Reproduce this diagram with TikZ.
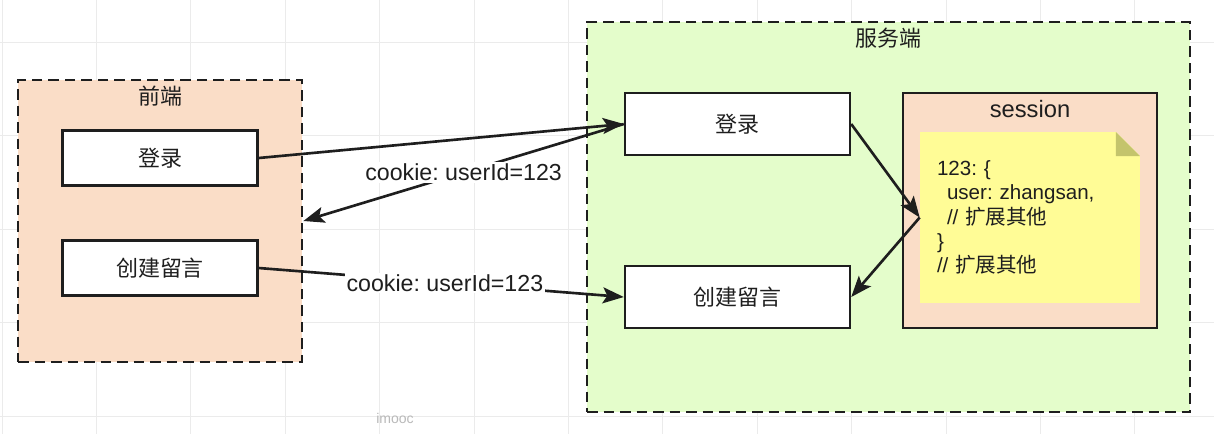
\documentclass[tikz,border=0pt]{standalone}
\usepackage{fontspec}
\setmainfont{Liberation Sans}
\newfontfamily\cjk{Noto Sans CJK SC}
\usetikzlibrary{arrows.meta,calc,positioning}
\frenchspacing

\definecolor{frontfill}{RGB}{250,221,199}
\definecolor{serverfill}{RGB}{228,253,203}
\definecolor{notefill}{RGB}{255,252,150}
\definecolor{foldfill}{RGB}{196,196,108}
\definecolor{ink}{RGB}{30,30,30}

\begin{document}
\begin{tikzpicture}[x=0.02cm, y=-0.02cm,
  gridline/.style={draw=gray!16, line width=0.5pt},
  group/.style={draw=ink, line width=1.6pt, dash pattern=on 6pt off 3.4pt},
  title/.style={text=ink, inner sep=0pt},
  page/.style={draw=ink, line width=1.4pt, fill=white, text=ink,
               font=\cjk\fontsize{12.5}{15}\selectfont},
  store/.style={draw=ink, line width=1.4pt, fill=frontfill,
                minimum width=5.08cm, minimum height=4.7cm},
  memo/.style={minimum width=4.4cm, minimum height=3.42cm, text width=3.72cm,
               inner xsep=0.34cm, inner ysep=0pt, align=left, text=ink,
               font=\fontsize{11.7}{13.9}\selectfont,
               path picture={
                 \fill[notefill] (path picture bounding box.north west)
                   -- ($(path picture bounding box.north east)+(-0.48cm,0)$)
                   -- ($(path picture bounding box.north east)+(0,-0.48cm)$)
                   -- (path picture bounding box.south east)
                   -- (path picture bounding box.south west) -- cycle;
                 \fill[foldfill] ($(path picture bounding box.north east)+(-0.48cm,0)$)
                   -- ($(path picture bounding box.north east)+(0,-0.48cm)$)
                   -- ($(path picture bounding box.north east)+(-0.48cm,-0.48cm)$) -- cycle;
               }},
  link/.style={-{Stealth[length=4.2mm, width=3.2mm, inset=0.9mm]}, line width=1.5pt, draw=ink},
  tag/.style={fill=white, inner sep=1pt, text=ink, font=\fontsize{13.2}{15}\selectfont}
]
\useasboundingbox (0,0) rectangle (1214,434);
\fill[white] (0,0) rectangle (1214,434);

% background grid
\foreach \gx in {2,96.4,...,1214} { \draw[gridline] (\gx,0) -- (\gx,434); }
\foreach \gy in {42,135.5,...,434} { \draw[gridline] (0,\gy) -- (1214,\gy); }

% front end
\node[group, fill=frontfill, minimum width=5.68cm, minimum height=5.64cm] (front) at (160,221) {};
\node[title, font=\cjk\fontsize{12.5}{15}\selectfont] (fronttitle) at ($(front.north)+(0,17)$) {前端};
\node[page, minimum width=3.9cm, minimum height=1.1cm] (flogin) at (160,158) {登录};
\node[page, minimum width=3.9cm, minimum height=1.1cm] (fcreate) at (160,268) {创建留言};

% server
\node[group, fill=serverfill, minimum width=12.06cm, minimum height=7.8cm] (server) at (888.5,217) {};
\node[title, font=\cjk\fontsize{12.5}{15}\selectfont] (servertitle) at ($(server.north)+(0,18)$) {服务端};
\node[page, minimum width=4.5cm, minimum height=1.24cm] (slogin) at (737.5,124) {登录};
\node[page, minimum width=4.5cm, minimum height=1.24cm] (screate) at (737.5,297) {创建留言};

\node[store] (session) at (1030,210.5) {};
\node[title, font=\fontsize{13.5}{16}\selectfont] (sessiontitle) at ($(session.north)+(0,17)$) {session};
\node[memo] (note) at (1030,217.5)
  {123: \{\\
   \hspace*{0.2cm}user: zhangsan,\\
   \hspace*{0.2cm}// {\cjk 扩展其他}\\
   \}\\
   // {\cjk 扩展其他}};

% requests
\draw[link] (flogin.east) -- (slogin.west);
\draw[link] (slogin.west) -- node[tag] (tagback) {cookie: userId=123} (front.east);
\draw[link] (fcreate.east) -- node[tag, pos=0.51] (tagsend) {cookie: userId=123} (screate.west);
\draw[link] (slogin.east) -- (note.west);
\draw[link] (note.west) -- (screate.east);

\node[text=gray!55, font=\fontsize{8}{9}\selectfont] (mark) at (395,418) {imooc};
\end{tikzpicture}
\end{document}
